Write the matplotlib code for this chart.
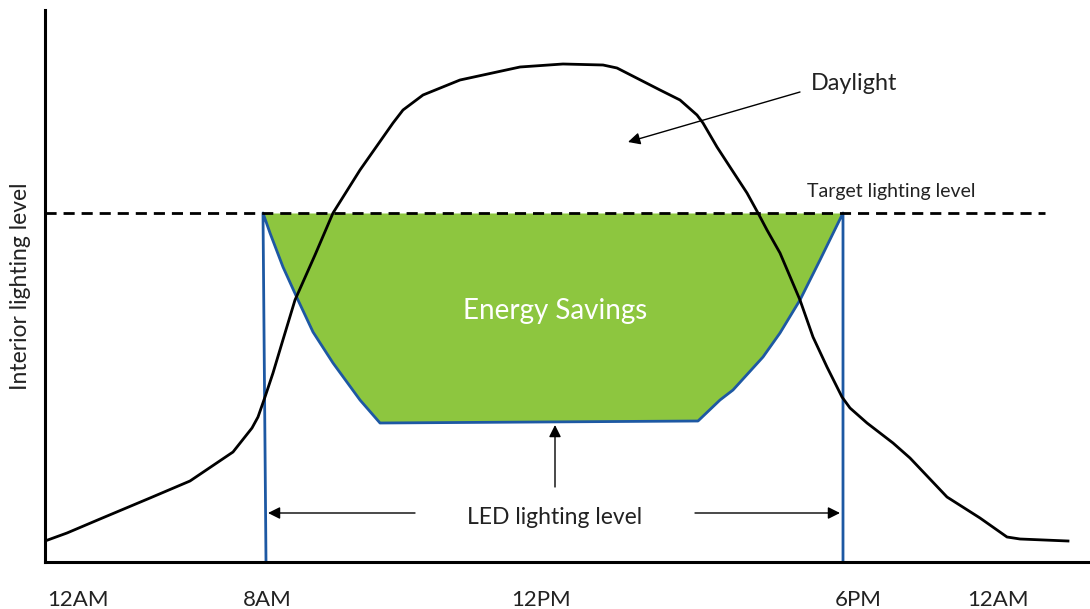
import matplotlib.pyplot as plt

plt.rcParams['font.family'] = ['Lato', 'DejaVu Sans']

# positions along the day (horizontal units) and lighting level (vertical units)
daylight_x = [45, 67, 100, 150, 190, 233, 252, 258, 265, 273, 282, 295, 315, 333, 360, 393,
              403, 423, 460, 520, 563, 603, 617, 660, 680, 697, 703, 717, 730, 747, 758,
              767, 780, 800, 813, 827, 842, 850, 867, 893, 910, 947, 980, 1007, 1020, 1068]
daylight_y = [21, 29, 43, 64, 81, 110, 134, 145, 165, 189, 219, 262, 307, 349, 392, 439,
              452, 467, 482, 495, 498, 497, 494, 472, 462, 447, 439, 415, 395, 369, 349,
              332, 309, 262, 225, 195, 165, 154, 139, 119, 104, 65, 44, 25, 23, 21]

led_x = [266, 263, 270, 283, 298, 313, 333, 360, 380, 698, 720, 733, 763, 780, 800, 820, 843, 843]
led_y = [0, 349, 329, 295, 262, 230, 199, 162, 139, 141, 162, 172, 205, 229, 262, 302, 349, 0]

target_level = 349
tick_pos = [78, 267, 541, 858, 998]
tick_labels = ['12AM', '8AM', '12PM', '6PM', '12AM']

fig = plt.figure(figsize=(10.9, 6.09), dpi=100)
ax = fig.add_axes([45 / 1090, 47 / 609, 1045 / 1090, 552 / 609])
ax.set_xlim(45, 1090)
ax.set_ylim(0, 552)

# green savings area between LED level and the target level
ax.fill_between(led_x[1:-1], led_y[1:-1], target_level, color='#8dc63f', lw=0, zorder=1)
ax.plot(led_x, led_y, color='#1d58a3', lw=2, zorder=2)
ax.plot(daylight_x, daylight_y, color='black', lw=2, zorder=3)
ax.plot([45, 1045], [target_level, target_level], color='black', lw=2,
        ls=(0, (4, 2.5)), zorder=4)

arrow = dict(arrowstyle='-|>', color='black', lw=1, mutation_scale=18, shrinkA=0, shrinkB=0)
ax.annotate('', xy=(628, 420), xytext=(800, 470), arrowprops=arrow)
ax.annotate('', xy=(555, 137), xytext=(555, 75), arrowprops=arrow)
ax.annotate('', xy=(268, 49), xytext=(415, 49), arrowprops=arrow)
ax.annotate('', xy=(840, 49), xytext=(695, 49), arrowprops=arrow)

ax.text(811, 479, 'Daylight', fontsize=16.8, color='#222222', va='center')
ax.text(807, 370, 'Target lighting level', fontsize=14, color='#222222', va='center')
ax.text(555, 251, 'Energy Savings', fontsize=20, color='white', ha='center', va='center')
ax.text(555, 45, 'LED lighting level', fontsize=16.5, color='#222222', ha='center', va='center')

ax.set_xticks(tick_pos)
ax.set_xticklabels(tick_labels, fontsize=16, color='#222222')
ax.tick_params(axis='x', length=0, pad=20)
ax.set_yticks([])
ax.set_ylabel('Interior lighting level', fontsize=16.5, color='#222222', labelpad=10)

for s in ['top', 'right']:
    ax.spines[s].set_visible(False)
for s in ['left', 'bottom']:
    ax.spines[s].set_linewidth(2.2)

plt.savefig('out.png', dpi=100)
